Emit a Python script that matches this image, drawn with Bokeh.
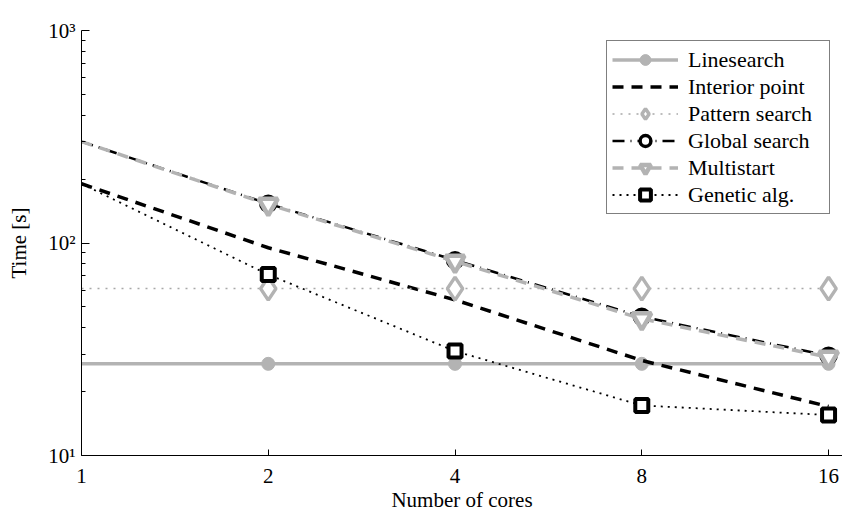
from bokeh.plotting import figure
from bokeh.models import FixedTicker, Legend, LegendItem, Range1d
from bokeh.embed import file_html
from bokeh.resources import INLINE

# ---- data ----
cores = [1, 2, 4, 8, 16]
linesearch = [27, 27, 27, 27, 27]
interior_point = [190, 95, 54, 28, 17]
pattern_search = [61, 61, 61, 61, 61]
global_search = [300, 153, 83, 45, 29.5]
multistart = [300, 152, 82, 44, 29]
genetic = [190, 71, 31, 17.2, 15.5]

x_ticks = [1, 2, 4, 8, 16]
x_tick_labels = ["1", "2", "4", "8", "16"]
y_ticks = [10, 100, 1000]
y_tick_labels = ["10¹", "10²", "10³"]
y_minor = [20, 30, 40, 50, 60, 70, 80, 90, 200, 300, 400, 500, 600, 700, 800, 900]

GRAY = "#b3b3b3"
FONT = "'Liberation Serif', 'Times New Roman', serif"

p = figure(width=842, height=514, x_axis_type="log", y_axis_type="log",
           output_backend="svg", toolbar_location=None,
           x_range=Range1d(1, 16.85), y_range=Range1d(10, 1000),
           min_border_left=81, min_border_right=0, min_border_top=30, min_border_bottom=58)
p.outline_line_color = None
p.xgrid.visible = False
p.ygrid.visible = False
p.background_fill_color = "white"
p.border_fill_color = "white"

mk = cores[1:]

r_ls = p.line(cores, linesearch, line_color=GRAY, line_width=3.5)
m_ls = p.scatter(mk, linesearch[1:], marker="circle", size=13, fill_color=GRAY, line_color=GRAY, line_width=1)

r_ip = p.line(cores, interior_point, line_color="black", line_width=3.5, line_dash="11 8")

r_ps = p.line(cores, pattern_search, line_color="#a8a8a8", line_width=1.5, line_dash="2 6")
m_ps = p.scatter(mk, pattern_search[1:], marker="diamond", size=23, fill_color="white", line_color=GRAY, line_width=3.5)

r_gs = p.line(cores, global_search, line_color="black", line_width=2.5, line_dash="12 6 1 6")
m_gs = p.scatter(mk, global_search[1:], marker="circle", size=15, fill_color="white", line_color="black", line_width=3.5)

r_ms = p.line(cores, multistart, line_color=GRAY, line_width=3.5, line_dash="11 8")
m_ms = p.scatter(mk, multistart[1:], marker="inverted_triangle", size=19, fill_color="white", line_color=GRAY, line_width=4.5)

r_ga = p.line(cores, genetic, line_color="black", line_width=1.8, line_dash="2 5")
m_ga = p.scatter(mk, genetic[1:], marker="square", size=13, fill_color="white", line_color="black", line_width=4)

# axes
xa = p.xaxis[0]
xa.ticker = FixedTicker(ticks=x_ticks, minor_ticks=[])
xa.major_label_overrides = {t: l for t, l in zip(x_ticks, x_tick_labels)}
xa.axis_label = "Number of cores"
ya = p.yaxis[0]
ya.ticker = FixedTicker(ticks=y_ticks, minor_ticks=y_minor)
ya.major_label_overrides = {t: l for t, l in zip(y_ticks, y_tick_labels)}
ya.axis_label = "Time [s]"

for ax in (xa, ya):
    ax.axis_line_color = "black"
    ax.axis_line_width = 1
    ax.major_tick_out = 0
    ax.minor_tick_out = 0
    ax.major_tick_line_color = "black"
    ax.minor_tick_line_color = "black"
    ax.major_label_text_font = FONT
    ax.major_label_text_font_size = "21px"
    ax.major_label_text_color = "black"
    ax.axis_label_text_font = FONT
    ax.axis_label_text_font_size = "21px"
    ax.axis_label_text_font_style = "normal"
    ax.axis_label_text_color = "black"

xa.major_tick_in = 6
xa.major_label_standoff = 13
xa.axis_label_standoff = 2
ya.major_tick_in = 8
ya.minor_tick_in = 4
ya.major_label_standoff = 6
ya.axis_label_standoff = 14

legend = Legend(items=[
    LegendItem(label="Linesearch", renderers=[r_ls, m_ls]),
    LegendItem(label="Interior point", renderers=[r_ip]),
    LegendItem(label="Pattern search", renderers=[r_ps, m_ps]),
    LegendItem(label="Global search", renderers=[r_gs, m_gs]),
    LegendItem(label="Multistart", renderers=[r_ms, m_ms]),
    LegendItem(label="Genetic alg.", renderers=[r_ga, m_ga]),
], location=(525, 241))
legend.label_text_font = FONT
legend.label_text_font_size = "22px"
legend.label_text_color = "black"
legend.glyph_width = 66
legend.glyph_height = 27
legend.label_height = 27
legend.label_width = 136
legend.label_standoff = 10
legend.spacing = 0
legend.padding = 5
legend.margin = 0
legend.border_line_color = "black"
legend.border_line_width = 1
legend.background_fill_color = "white"
legend.background_fill_alpha = 1
p.add_layout(legend, "center")

open("out.html", "w").write(file_html(p, INLINE))
